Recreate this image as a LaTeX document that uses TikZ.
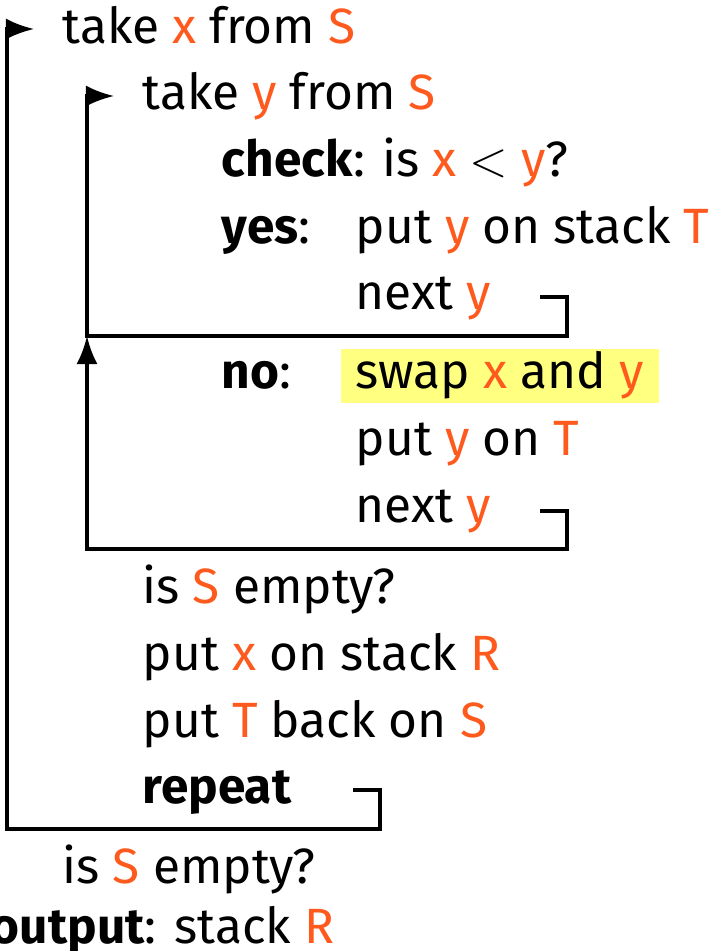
\documentclass[tikz,border=0pt]{standalone}
\usepackage{fontspec}
\setmainfont{Fira Sans}
\usepackage{xcolor}
\usetikzlibrary{arrows.meta}

\definecolor{vcol}{RGB}{255,90,30}
\definecolor{hilite}{RGB}{255,255,128}
\newcommand{\V}[1]{\textcolor{vcol}{#1}}

\begin{document}
\begin{tikzpicture}[
  x=0.01cm, y=-0.01cm,
  stmt/.style={anchor=base west, inner sep=0pt, font=\fontsize{14.1}{17}\selectfont},
  wire/.style={line width=0.9pt},
  jump/.style={wire, -{Latex[length=8pt,width=6pt]}},
]
\useasboundingbox (0,0) rectangle (711,951);

% --- statements ---
\node[stmt] (takex) at (62,43) {take \V{x} from \V{S}};
\node[stmt] (takey) at (142,109) {take \V{y} from \V{S}};
\node[stmt] (check) at (221,176) {\textbf{check}: is \V{x} $<$ \V{y}?};
\node[stmt] (yes) at (221,243) {\textbf{yes}:};
\node[stmt] (puty) at (355,243) {put \V{y} on stack \V{T}};
\node[stmt] (nexta) at (355,309) {next \V{y}};
\node[stmt] (no) at (221,388) {\textbf{no}:};
\node[stmt, fill=hilite, inner xsep=4.3pt, text height=11.1pt, text depth=4.3pt]
  (swap) at (340,388) {swap \V{x} and \V{y}};
\node[stmt] (putyT) at (355,455) {put \V{y} on \V{T}};
\node[stmt] (nextb) at (355,522) {next \V{y}};
\node[stmt] (emptya) at (142,603) {is \V{S} empty?};
\node[stmt] (putx) at (142,670) {put \V{x} on stack \V{R}};
\node[stmt] (putT) at (142,737) {put \V{T} back on \V{S}};
\node[stmt] (repeat) at (142,803) {\textbf{repeat}};
\node[stmt] (emptyb) at (62,883) {is \V{S} empty?};
\node[stmt, anchor=base east] (output) at (335,943) {\textbf{output}: stack \V{R}};

% --- loop corners ---
\coordinate (ha) at (540,297);
\coordinate (da) at (567,336);
\coordinate (ca) at (87,96);
\coordinate (ia) at (114,96);
\coordinate (hb) at (540,511);
\coordinate (db) at (567,549);
\coordinate (ja) at (87,336);
\coordinate (hc) at (353,790);
\coordinate (dc) at (380,829);
\coordinate (cc) at (7,29);
\coordinate (ic) at (34,29);

% --- loops ---
\draw[jump] (ha) -| (da) -| (ca) -- (ia);
\draw[jump] (hb) -| (db) -| (ja);
\draw[jump] (hc) -| (dc) -| (cc) -- (ic);

\end{tikzpicture}
\end{document}
